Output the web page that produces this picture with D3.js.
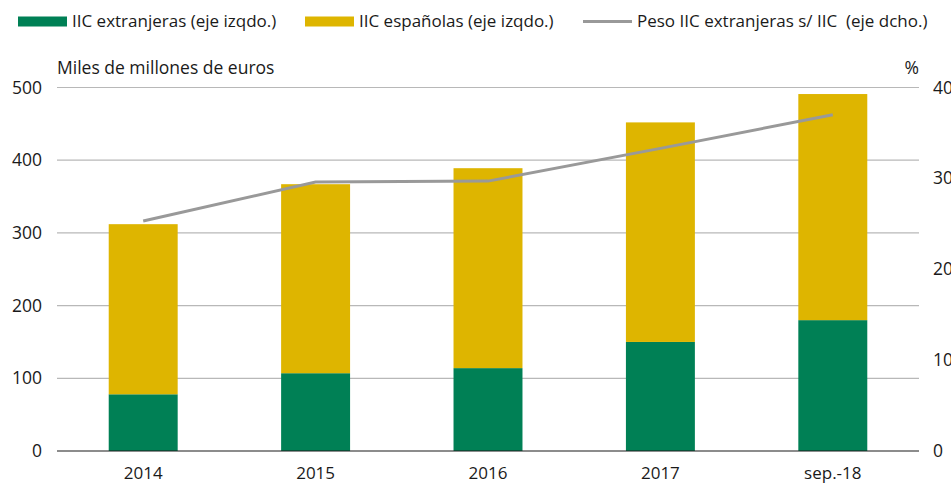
<!DOCTYPE html>
<html>
<head>
<meta charset="utf-8">
<script src="https://cdn.jsdelivr.net/npm/d3@7"></script>
<style>
  body { margin: 0; background: #fff; }
  text { font-family: "Open Sans", "Noto Sans", sans-serif; fill: #1a1a1a; }
</style>
</head>
<body>
<div id="chart"></div>
<script>
// Data
const categories = ["2014", "2015", "2016", "2017", "sep.-18"];
const foreignIIC = [78, 107, 114, 150, 180];
const spanishIIC = [234, 260, 275, 302, 311];
const foreignShare = [25.3, 29.6, 29.7, 33.3, 37.0];
const leftTicks = [0, 100, 200, 300, 400, 500];
const rightTicks = [0, 10, 20, 30, 40];

const colors = { foreign: "#008055", spanish: "#deb500", line: "#999999" };

const width = 951;
const height = 486;
const margin = { top: 87.5, right: 32, bottom: 35, left: 57 };
const innerWidth = width - margin.left - margin.right;
const innerHeight = height - margin.top - margin.bottom;

const svg = d3.select("#chart")
    .append("svg")
    .attr("width", width)
    .attr("height", height);

const chart = svg.append("g")
    .attr("transform", `translate(${margin.left}, ${margin.top})`);

// Scales
const xScale = d3.scaleBand()
    .domain(categories)
    .range([0, innerWidth])
    .paddingInner(0.6)
    .paddingOuter(0.3);

const yLeft = d3.scaleLinear().domain([0, 500]).range([innerHeight, 0]);
const yRight = d3.scaleLinear().domain([0, 40]).range([innerHeight, 0]);

// Gridlines
chart.selectAll(".grid")
    .data(leftTicks.filter(d => d > 0))
    .enter()
    .append("line")
    .attr("class", "grid")
    .attr("x1", 0)
    .attr("x2", innerWidth)
    .attr("y1", d => yLeft(d))
    .attr("y2", d => yLeft(d))
    .attr("stroke", "#b8b8b8")
    .attr("stroke-width", 1.2);

// Stacked bars
const stackData = categories.map((c, i) => ({ cat: c, foreign: foreignIIC[i], spanish: spanishIIC[i] }));
const series = d3.stack().keys(["foreign", "spanish"])(stackData);

chart.selectAll(".series")
    .data(series)
    .enter()
    .append("g")
    .attr("fill", d => colors[d.key])
    .selectAll("rect")
    .data(d => d)
    .enter()
    .append("rect")
    .attr("x", d => xScale(d.data.cat))
    .attr("width", xScale.bandwidth())
    .attr("y", d => yLeft(d[1]))
    .attr("height", d => yLeft(d[0]) - yLeft(d[1]));

// Zero axis line
chart.append("line")
    .attr("x1", 0)
    .attr("x2", innerWidth)
    .attr("y1", innerHeight)
    .attr("y2", innerHeight)
    .attr("stroke", "#1a1a1a")
    .attr("stroke-width", 1.2);

// Line on right axis
const line = d3.line()
    .x((d, i) => xScale(categories[i]) + xScale.bandwidth() / 2)
    .y(d => yRight(d));

chart.append("path")
    .datum(foreignShare)
    .attr("fill", "none")
    .attr("stroke", colors.line)
    .attr("stroke-width", 3)
    .attr("d", line);

// Axes
const xAxis = d3.axisBottom(xScale).tickSize(0).tickPadding(16);
const gx = chart.append("g")
    .attr("transform", `translate(0, ${innerHeight})`)
    .call(xAxis);
gx.select(".domain").remove();
gx.selectAll("text").style("font-size", "17px").attr("fill", "#1a1a1a");

const gyl = chart.append("g")
    .call(d3.axisLeft(yLeft).tickValues(leftTicks).tickSize(0).tickPadding(15));
gyl.select(".domain").remove();
gyl.selectAll("text").style("font-size", "17.5px").attr("fill", "#1a1a1a");

const gyr = chart.append("g")
    .attr("transform", `translate(${innerWidth}, 0)`)
    .call(d3.axisRight(yRight).tickValues(rightTicks).tickSize(0).tickPadding(14));
gyr.select(".domain").remove();
gyr.selectAll("text").style("font-size", "17.5px").attr("fill", "#1a1a1a");

// Axis titles
svg.append("text")
    .attr("x", margin.left)
    .attr("y", 74)
    .style("font-size", "17.5px")
    .text("Miles de millones de euros");

svg.append("text")
    .attr("x", margin.left + innerWidth)
    .attr("y", 74)
    .attr("text-anchor", "end")
    .style("font-size", "17.5px")
    .text("%");

// Legend
const legendItems = [
    { label: "IIC extranjeras (eje izqdo.)", color: colors.foreign, type: "rect", x: 18 },
    { label: "IIC españolas (eje izqdo.)", color: colors.spanish, type: "rect", x: 305 },
    { label: "Peso IIC extranjeras s/ IIC  (eje dcho.)", color: colors.line, type: "line", x: 583 }
];

const legend = svg.append("g").attr("class", "legend");
legendItems.forEach(item => {
    const g = legend.append("g").attr("transform", `translate(${item.x}, 0)`);
    if (item.type === "rect") {
        g.append("rect")
            .attr("x", 0).attr("y", 16.5)
            .attr("width", 49).attr("height", 10)
            .attr("fill", item.color);
    } else {
        g.append("line")
            .attr("x1", 0).attr("x2", 49)
            .attr("y1", 21.5).attr("y2", 21.5)
            .attr("stroke", item.color)
            .attr("stroke-width", 3);
    }
    g.append("text")
        .attr("x", 54)
        .attr("y", 27)
        .style("font-size", "17px")
        .style("white-space", "pre")
        .text(item.label);
});
</script>
</body>
</html>
